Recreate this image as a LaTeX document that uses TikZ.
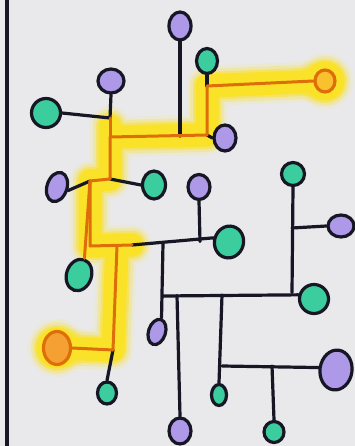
\documentclass[tikz,border=0pt]{standalone}
\usetikzlibrary{shapes.geometric}
\definecolor{bg}{RGB}{233,233,235}
\definecolor{gr}{RGB}{60,205,158}
\definecolor{pu}{RGB}{174,152,232}
\definecolor{ol}{RGB}{22,22,36}
\definecolor{orl}{RGB}{222,110,10}
\definecolor{orf}{RGB}{245,160,50}
\definecolor{ye}{RGB}{250,226,40}
\tikzset{
  bub/.style={ellipse, draw=ol, line width=3.2pt, inner sep=0pt},
  gn/.style={bub, fill=gr},
  pn/.style={bub, fill=pu},
  wire/.style={draw=ol, line width=3.2pt, line cap=round, line join=round},
  hot/.style={draw=orl, line width=3pt, line cap=round, line join=round},
  glow/.style={draw=ye, line cap=round, line join=round},
}
\begin{document}
\begin{tikzpicture}[x=1pt,y=-1pt]
\fill[bg] (0,0) rectangle (355,446);
\useasboundingbox (0,0) rectangle (355,446);
% junction coordinates
\coordinate (a1) at (180,136);
\coordinate (a2) at (207,86);
\coordinate (a3) at (207,135);
\coordinate (a4) at (110,137);
\coordinate (a5) at (110,118);
\coordinate (a6) at (110,179);
\coordinate (a7) at (90,181);
\coordinate (a8) at (90,246);
\coordinate (a9) at (117,246);
\coordinate (a10) at (132,245);
\coordinate (a11) at (113,350);
\coordinate (a12) at (200,241.5);
\coordinate (a13) at (163,243.5);
\coordinate (a14) at (163,296);
\coordinate (a15) at (177,295.5);
\coordinate (a16) at (222,295);
\coordinate (a17) at (292,292.5);
\coordinate (a18) at (222,366);
\coordinate (a19) at (272,366);
\coordinate (a20) at (292,228);
\coordinate (oc1) at (325,81);
\coordinate (oc2) at (57,348);
% glow
\foreach \w/\o in {40/0.12,34/0.25,28/0.5,23/1}{
  \draw[glow, line width=\w pt, opacity=\o] (oc1) -- (a2) -- (a3) -- (a4) -- (110,126) (a4) -- (a6) -- (a7) -- (a8) -- (a10) (a9) -- (a11) -- (oc2);
  \fill[ye, opacity=\o] (oc1) circle ({(\w+16)/2});
  \fill[ye, opacity=\o] (oc2) circle ({(\w+18)/2});
}
% nodes
\node[pn, minimum width=22pt, minimum height=28pt] (p1) at (180,26) {};
\node[gn, minimum width=21pt, minimum height=25pt] (g1) at (207,61) {};
\node[pn, minimum width=26pt, minimum height=24pt] (p2) at (111,81) {};
\node[gn, minimum width=29pt, minimum height=29pt] (g2) at (46,113) {};
\node[bub, draw=orl, fill=orf!50!ye, minimum width=20pt, minimum height=22pt] (o1) at (oc1) {};
\node[pn, minimum width=22pt, minimum height=26pt] (p3) at (225,138) {};
\node[pn, minimum width=20pt, minimum height=30pt, rotate=-18] (p4) at (57,187) {};
\node[gn, minimum width=23pt, minimum height=28pt] (g3) at (154,185) {};
\node[pn, minimum width=22pt, minimum height=25pt] (p5) at (199,187) {};
\node[gn, minimum width=23pt, minimum height=23pt] (g4) at (293,174) {};
\node[pn, minimum width=26pt, minimum height=22pt] (p6) at (341,226) {};
\node[gn, minimum width=29pt, minimum height=32pt, rotate=-15] (g5) at (229,242) {};
\node[gn, minimum width=25pt, minimum height=32pt, rotate=-18] (g6) at (79,275) {};
\node[bub, draw=orl, fill=orf, minimum width=27pt, minimum height=33pt] (o2) at (oc2) {};
\node[gn, minimum width=29pt, minimum height=29pt, rotate=-15] (g7) at (314,299) {};
\node[pn, minimum width=17pt, minimum height=26pt, rotate=-18] (p7) at (157,332) {};
\node[gn, minimum width=19pt, minimum height=22pt] (g8) at (107,393) {};
\node[pn, minimum width=32pt, minimum height=40pt, rotate=-8] (p8) at (336,370) {};
\node[gn, minimum width=15pt, minimum height=21pt] (g9) at (219,395) {};
\node[pn, minimum width=22pt, minimum height=26pt] (p9) at (180,431) {};
\node[gn, minimum width=20pt, minimum height=21pt] (g10) at (274,432) {};
% border
\draw[ol, line width=3.2pt] (7,0) -- (7,446);
% black wires
\draw[wire] (p1.south) -- (a1);
\draw[wire] (g1.south) -- (a2);
\draw[wire] (a3) -- (p3.west);
\draw[wire] (p2.south) -- (a5);
\draw[wire] (g2.east) -- (a5);
\draw[wire] (p4.east) -- (a7);
\draw[wire] (a6) -- (g3.west);
\draw[wire] (a10) -- (g5.west);
\draw[wire] (p5.south) -- (a12);
\draw[wire] (a11) -- (g8.north);
\draw[wire] (a13) -- (p7.north);
\draw[wire] (a14) -- (g7.west);
\draw[wire] (a15) -- (p9.north);
\draw[wire] (a16) -- (g9.north);
\draw[wire] (a18) -- (p8.west);
\draw[wire] (a19) -- (g10.north);
\draw[wire] (g4.south) -- (a17);
\draw[wire] (a20) -- (p6.west);
% orange wires
\draw[hot] (o1.west) -- (a2) -- (a3) -- (a4) -- (a6) -- (a7) -- (a8) -- (a10);
\draw[hot] (a5) -- (a4);
\draw[hot] (a7) -- (g6.north);
\draw[hot] (a9) -- (a11);
\draw[hot] (o2.east) -- (a11);
\end{tikzpicture}
\end{document}
